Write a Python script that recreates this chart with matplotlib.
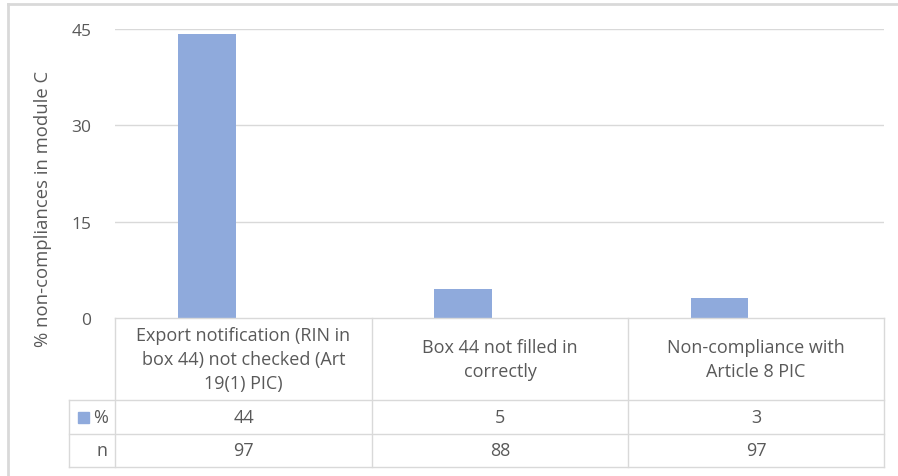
import matplotlib
matplotlib.use("Agg")
from matplotlib import pyplot as plt
from matplotlib.lines import Line2D
from matplotlib.patches import Rectangle

# Data
categories = ["Export notification (RIN in\nbox 44) not checked (Art\n19(1) PIC)",
              "Box 44 not filled in\ncorrectly",
              "Non-compliance with\nArticle 8 PIC"]
pct_values = [44.2, 4.5, 3.1]     # bar heights
pct_labels = ["44", "5", "3"]     # values shown in data table
n_labels = ["97", "88", "97"]
y_ticks = [0, 15, 30, 45]
y_label = "% non-compliances in module C"

BAR = "#8FAADC"
GRID = "#D9D9D9"
TXT = "#595959"
W, H = 898, 477

plt.rcParams['font.family'] = ['Open Sans', 'DejaVu Sans']

fig = plt.figure(figsize=(W / 100, H / 100), dpi=100)

def fx(px):
    return px / W

def fy(py):
    return 1 - py / H

# pixel positions of table / plot area
x_left, x_right = 115, 884
y_top, y_zero = 30, 319
row_lines = [401, 435, 468]
col_lines = [115, 372, 628, 884]
legend_x = 69

ax = fig.add_axes([fx(x_left), fy(y_zero), fx(x_right) - fx(x_left), fy(y_top) - fy(y_zero)])
xs = [i - 0.142 for i in range(len(categories))]   # first slot of a two-series cluster
ax.bar(xs, pct_values, width=0.225, color=BAR, zorder=3)
ax.set_xlim(-0.5, len(categories) - 0.5)
ax.set_ylim(0, 45)
ax.set_yticks(y_ticks)
ax.set_yticklabels([str(t) for t in y_ticks], fontsize=12.5, color=TXT)
ax.tick_params(axis="y", length=0, pad=17)
ax.set_xticks([])
for s in ax.spines.values():
    s.set_visible(False)
for t in y_ticks[1:]:
    ax.axhline(t, color=GRID, lw=1, zorder=1)

fig.text(fx(43), fy(209), y_label, rotation=90, fontsize=13.3, color=TXT,
         ha="center", va="center")

# outer chart frame
fig.add_artist(Line2D([fx(8), fx(8)], [fy(5), 0], color=GRID, lw=2))
fig.add_artist(Line2D([fx(8), 1], [fy(5), fy(5)], color=GRID, lw=2))

# data table grid
fig.add_artist(Line2D([fx(x_left), fx(x_right)], [fy(y_zero), fy(y_zero)], color=GRID, lw=1))
for ry in row_lines:
    fig.add_artist(Line2D([fx(legend_x), fx(x_right)], [fy(ry), fy(ry)], color=GRID, lw=1))
for cx in col_lines:
    fig.add_artist(Line2D([fx(cx), fx(cx)], [fy(y_zero), fy(row_lines[-1])], color=GRID, lw=1))
fig.add_artist(Line2D([fx(legend_x), fx(legend_x)], [fy(row_lines[0]), fy(row_lines[-1])], color=GRID, lw=1))

# table text
fs = 13
for i, cat in enumerate(categories):
    cx = (col_lines[i] + col_lines[i + 1]) / 2
    fig.text(fx(cx), fy((y_zero + row_lines[0]) / 2), cat, ha="center", va="center",
             fontsize=fs, color=TXT, linespacing=1.45)
    fig.text(fx(cx), fy((row_lines[0] + row_lines[1]) / 2), pct_labels[i], ha="center",
             va="center", fontsize=fs, color=TXT)
    fig.text(fx(cx), fy((row_lines[1] + row_lines[2]) / 2), n_labels[i], ha="center",
             va="center", fontsize=fs, color=TXT)

# row headers
fig.add_artist(Rectangle((fx(78), fy(424)), fx(11), fy(413) - fy(424), color=BAR))
fig.text(fx(108), fy((row_lines[0] + row_lines[1]) / 2), "%", ha="right", va="center",
         fontsize=fs, color=TXT)
fig.text(fx(108), fy((row_lines[1] + row_lines[2]) / 2), "n", ha="right", va="center",
         fontsize=fs, color=TXT)

fig.savefig("out.png", dpi=100)
